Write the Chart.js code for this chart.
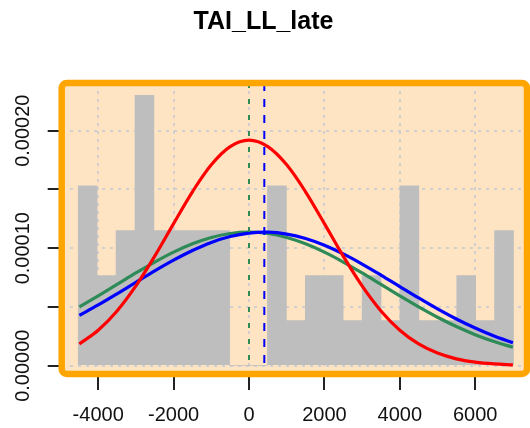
<!DOCTYPE html>
<html>
<head>
<meta charset="utf-8">
<script src="https://cdn.jsdelivr.net/npm/chart.js@4.4.1/dist/chart.umd.min.js"></script>
<style>
  html, body { margin: 0; padding: 0; background: #fff; }
  #wrap { width: 530px; height: 428px; position: relative; }
</style>
</head>
<body>
<div id="wrap"><canvas id="myChart"></canvas></div>
<script>
// histogram bins (centers) and densities
const binCenters = [-4279, -3777, -3275, -2773, -2271, -1769, -1267, -765, -263, 239, 741, 1243,
    1745, 2247, 2749, 3251, 3753, 4255, 4757, 5259, 5761, 6263, 6765];
const binDensity = [0.000153, 0.0000766, 0.000115, 0.00023, 0.000115, 0.000115, 0.000115, 0.000115,
    0, 0, 0.000153, 0.0000383, 0.0000766, 0.0000766, 0.0000383, 0.0000766, 0.0000383, 0.000153,
    0.0000383, 0.0000383, 0.0000766, 0.0000383, 0.000115];

// density curves
const curveX = [-4500, -4000, -3500, -3000, -2500, -2000, -1500, -1000, -500, 0, 500, 1000,
    1500, 2000, 2500, 3000, 3500, 4000, 4500, 5000, 5500, 6000, 6500, 7000];
const redY = [1.85e-5, 3.02e-5, 4.66e-5, 6.79e-5, 9.32e-5, 1.209e-4, 1.480e-4, 1.710e-4, 1.865e-4, 1.92e-4,
    1.865e-4, 1.710e-4, 1.480e-4, 1.209e-4, 9.32e-5, 6.79e-5, 4.66e-5, 3.02e-5, 1.85e-5, 1.07e-5,
    5.8e-6, 3.0e-6, 1.5e-6, 7e-7];
const blueY = [4.28e-5, 5.17e-5, 6.12e-5, 7.10e-5, 8.07e-5, 8.98e-5, 9.80e-5, 1.049e-4, 1.099e-4, 1.128e-4,
    1.136e-4, 1.120e-4, 1.082e-4, 1.025e-4, 9.51e-5, 8.65e-5, 7.71e-5, 6.73e-5, 5.76e-5, 4.83e-5,
    3.97e-5, 3.20e-5, 2.52e-5, 1.95e-5];
const greenY = [5.00e-5, 5.94e-5, 6.91e-5, 7.89e-5, 8.82e-5, 9.66e-5, 1.037e-4, 1.091e-4, 1.125e-4, 1.136e-4,
    1.125e-4, 1.091e-4, 1.037e-4, 9.66e-5, 8.82e-5, 7.89e-5, 6.91e-5, 5.94e-5, 5.00e-5, 4.12e-5,
    3.33e-5, 2.64e-5, 2.05e-5, 1.56e-5];

// vertical reference lines (green dotted, blue dashed)
const refLines = [0, 406];

const xTicks = [-4000, -2000, 0, 2000, 4000, 6000];
const yTickStep = 0.00005;

Chart.defaults.font.family = '"Liberation Sans", Arial, sans-serif';
Chart.defaults.color = '#111';

const toPoints = (xs, ys) => xs.map((x, i) => ({x: x, y: ys[i]}));

const panelPlugin = {
    id: 'panel',
    beforeDraw(chart) {
        const a = chart.chartArea;
        const ctx = chart.ctx;
        ctx.save();
        ctx.fillStyle = '#FFE4C4';
        ctx.fillRect(a.left, a.top, a.right - a.left, a.bottom - a.top);
        ctx.restore();
    },
    afterDatasetsDraw(chart) {
        const a = chart.chartArea;
        const ctx = chart.ctx;
        const xs = chart.scales.x;
        const styles = [{color: '#2E8B57', dash: [5, 11]}, {color: '#0000FF', dash: [8, 8]}];
        ctx.save();
        refLines.forEach((v, i) => {
            const px = xs.getPixelForValue(v);
            ctx.strokeStyle = styles[i].color;
            ctx.lineWidth = 2;
            ctx.setLineDash(styles[i].dash);
            ctx.beginPath();
            ctx.moveTo(px, a.top);
            ctx.lineTo(px, a.bottom);
            ctx.stroke();
        });
        ctx.restore();
    },
    afterDraw(chart) {
        const a = chart.chartArea;
        const ctx = chart.ctx;
        ctx.save();
        ctx.strokeStyle = '#FFA500';
        ctx.lineWidth = 6.5;
        ctx.beginPath();
        ctx.roundRect(a.left, a.top, a.right - a.left, a.bottom - a.top, 5);
        ctx.stroke();
        ctx.restore();
    }
};

const ctx = document.getElementById('myChart');
const myChart = new Chart(ctx, {
    type: 'bar',
    data: {
        datasets: [
            {type: 'line', data: toPoints(curveX, redY), borderColor: '#FF0000', borderWidth: 3.2,
                pointRadius: 0, tension: 0.35, order: 0},
            {type: 'line', data: toPoints(curveX, blueY), borderColor: '#0000FF', borderWidth: 3.2,
                pointRadius: 0, tension: 0.35, order: 1},
            {type: 'line', data: toPoints(curveX, greenY), borderColor: '#2E8B57', borderWidth: 3.2,
                pointRadius: 0, tension: 0.35, order: 2},
            {type: 'bar', data: toPoints(binCenters, binDensity), backgroundColor: '#BEBEBE',
                borderWidth: 0, barPercentage: 1, categoryPercentage: 1, order: 3}
        ]
    },
    options: {
        responsive: true,
        maintainAspectRatio: false,
        animation: false,
        layout: {padding: {left: 0, right: 3, top: 0, bottom: 0}},
        plugins: {
            legend: {display: false},
            tooltip: {enabled: false},
            title: {
                display: true,
                text: 'TAI_LL_late',
                color: '#000',
                font: {size: 25, weight: 'bold'},
                padding: {top: 7, bottom: 46}
            }
        },
        scales: {
            x: {
                type: 'linear',
                min: -4968,
                max: 7374,
                offset: false,
                z: 1,
                grid: {offset: false, color: '#CFCFCF', lineWidth: 2, tickLength: 16,
                    tickColor: '#222', tickWidth: 2, tickBorderDash: []},
                border: {display: false, dash: [3, 5]},
                ticks: {autoSkip: false, maxRotation: 0, padding: 13, font: {size: 20},
                    callback: (v) => String(v)},
                afterBuildTicks: (scale) => { scale.ticks = xTicks.map((v) => ({value: v})); },
                afterFit: (scale) => { scale.height = 54; }
            },
            y: {
                min: -0.0000071,
                max: 0.0002406,
                z: 1,
                grid: {color: '#CFCFCF', lineWidth: 2, tickLength: 14,
                    tickColor: '#222', tickWidth: 2, tickBorderDash: []},
                border: {display: false, dash: [3, 5]},
                ticks: {
                    stepSize: yTickStep, includeBounds: false, autoSkip: false,
                    minRotation: 90, maxRotation: 90, crossAlign: 'center', padding: -12,
                    font: {size: 20},
                    callback: (v) => (Math.round(v / yTickStep) % 2 === 0 ? v.toFixed(5) : '')
                },
                afterFit: (scale) => { scale.width = 61.7; }
            }
        }
    },
    plugins: [panelPlugin]
});
</script>
</body>
</html>
